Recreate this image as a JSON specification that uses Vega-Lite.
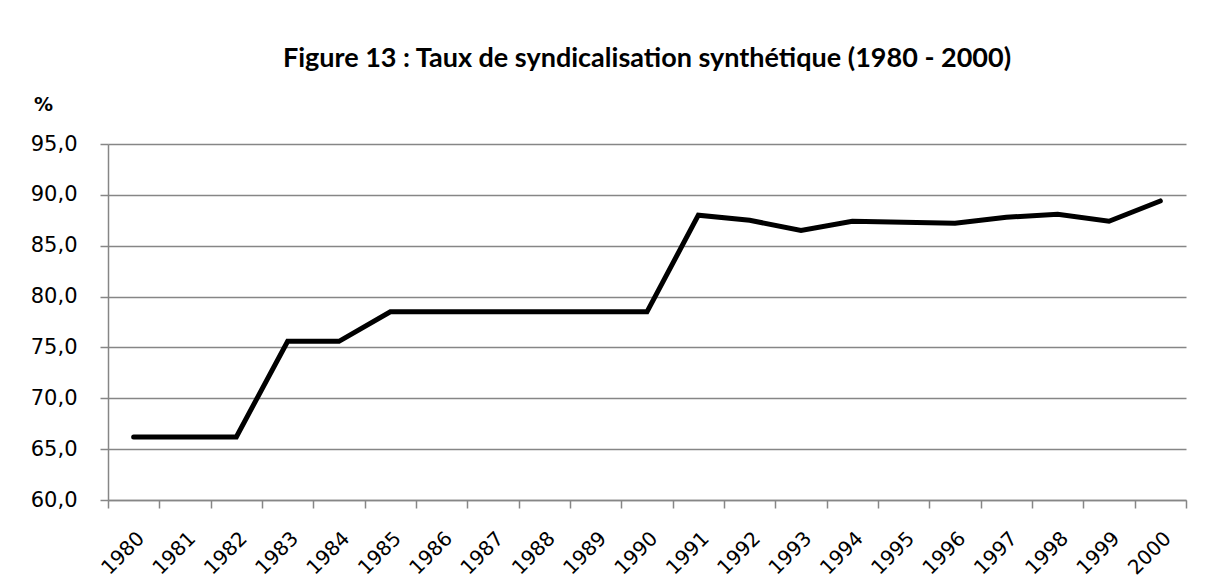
{
  "$schema": "https://vega.github.io/schema/vega-lite/v6.json",
  "autosize": "none",
  "width": 1078,
  "height": 356,
  "padding": {"left": 108, "top": 144, "right": 25, "bottom": 80},
  "background": "white",
  "config": {
    "locale": {"number": {"decimal": ",", "thousands": " ", "grouping": [3], "currency": ["", " €"]}},
    "view": {"stroke": null}
  },
  "title": {
    "text": "Figure 13 : Taux de syndicalisation synthétique (1980 - 2000)",
    "font": "Lato",
    "fontSize": 27,
    "fontWeight": "bold",
    "color": "#000000",
    "anchor": "middle",
    "offset": 22
  },
  "data": {
    "values": [
      {"annee": "1980", "taux": 66.2},
      {"annee": "1981", "taux": 66.2},
      {"annee": "1982", "taux": 66.2},
      {"annee": "1983", "taux": 75.6},
      {"annee": "1984", "taux": 75.6},
      {"annee": "1985", "taux": 78.5},
      {"annee": "1986", "taux": 78.5},
      {"annee": "1987", "taux": 78.5},
      {"annee": "1988", "taux": 78.5},
      {"annee": "1989", "taux": 78.5},
      {"annee": "1990", "taux": 78.5},
      {"annee": "1991", "taux": 88.0},
      {"annee": "1992", "taux": 87.5},
      {"annee": "1993", "taux": 86.5},
      {"annee": "1994", "taux": 87.4},
      {"annee": "1995", "taux": 87.3},
      {"annee": "1996", "taux": 87.2},
      {"annee": "1997", "taux": 87.8},
      {"annee": "1998", "taux": 88.1},
      {"annee": "1999", "taux": 87.4},
      {"annee": "2000", "taux": 89.4}
    ]
  },
  "mark": {"type": "line", "color": "#000000", "strokeWidth": 5, "strokeCap": "round", "strokeJoin": "miter"},
  "encoding": {
    "x": {
      "field": "annee",
      "type": "ordinal",
      "scale": {"type": "band", "paddingInner": 0, "paddingOuter": 0},
      "axis": {
        "title": null,
        "labelAngle": -45,
        "labelFont": "DejaVu Sans",
        "labelFontSize": 20,
        "labelColor": "#000000",
        "labelPadding": 20,
        "tickBand": "extent",
        "tickSize": 8,
        "tickColor": "#868686",
        "tickWidth": 1.5,
        "domainColor": "#868686",
        "domainWidth": 1.5,
        "grid": false
      }
    },
    "y": {
      "field": "taux",
      "type": "quantitative",
      "scale": {"domain": [60, 95], "nice": false, "zero": false},
      "axis": {
        "title": "%",
        "titleAngle": 0,
        "titleFont": "DejaVu Sans",
        "titleFontSize": 19,
        "titleFontWeight": "bold",
        "titleColor": "#000000",
        "titleX": -65,
        "titleY": -30,
        "titleAlign": "center",
        "values": [60, 65, 70, 75, 80, 85, 90, 95],
        "format": ".1f",
        "labelFont": "DejaVu Sans",
        "labelFontSize": 21,
        "labelColor": "#000000",
        "labelPadding": 23,
        "tickSize": 8,
        "tickColor": "#868686",
        "tickWidth": 1.5,
        "domainColor": "#868686",
        "domainWidth": 1.5,
        "grid": true,
        "gridColor": "#868686",
        "gridWidth": 1.5
      }
    }
  }
}
